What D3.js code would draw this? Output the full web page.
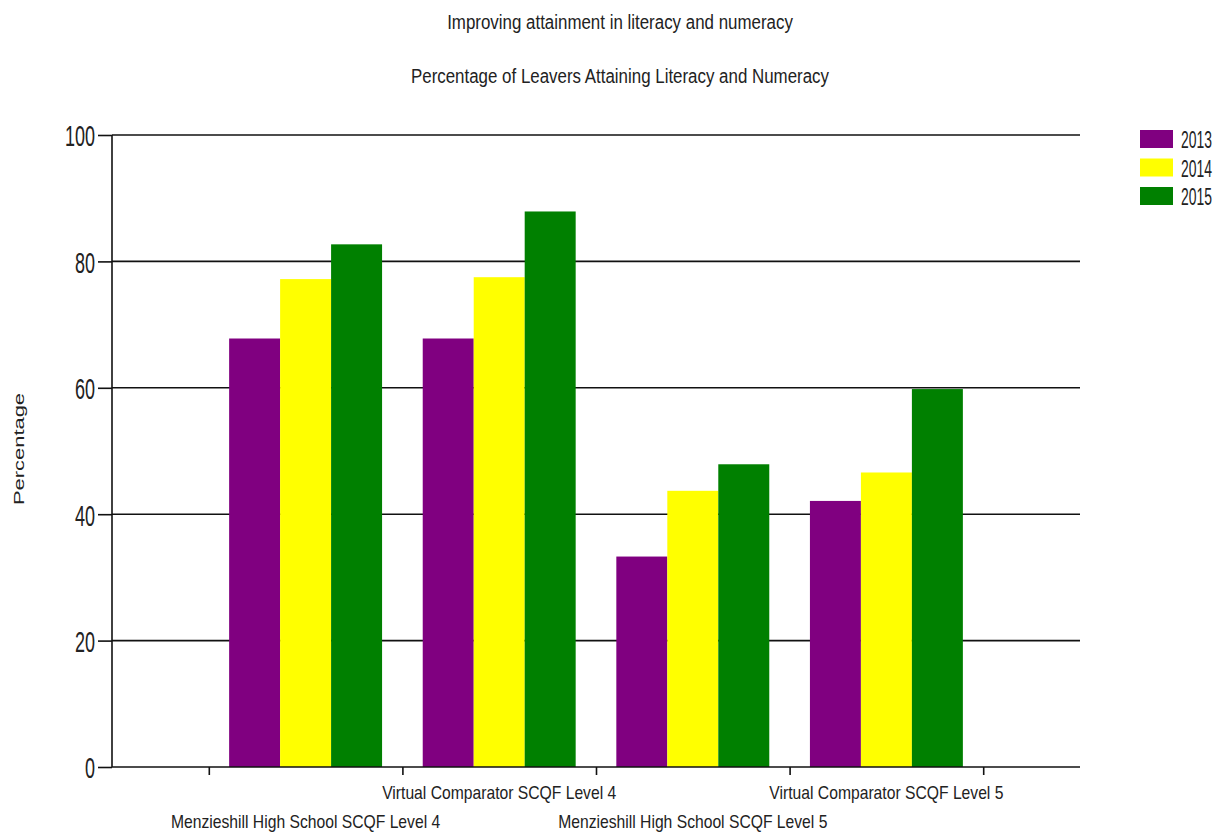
<!DOCTYPE html>
<html lang="en">
<head>
  <meta charset="UTF-8">
  <title>Improving attainment in literacy and numeracy</title>
  <script src="https://d3js.org/d3.v7.min.js"></script>
  <style>
    body { margin: 0; background: #fff; }
    text { font-family: "Liberation Sans", Arial, sans-serif; fill: #222; }
  </style>
</head>
<body>
  <svg id="chart"></svg>

  <script>
    const categories = [
      "Menzieshill High School SCQF Level 4",
      "Virtual Comparator SCQF Level 4",
      "Menzieshill High School SCQF Level 5",
      "Virtual Comparator SCQF Level 5"
    ];
    const years = ["2013", "2014", "2015"];
    const values2013 = [67.8, 67.8, 33.3, 42.1];
    const values2014 = [77.2, 77.5, 43.7, 46.6];
    const values2015 = [82.7, 87.9, 47.9, 59.8];
    const yTicks = [0, 20, 40, 60, 80, 100];
    const colors = ["#800080", "#ffff00", "#008000"];

    const width = 1220, height = 832;
    const margin = { top: 135, right: 140, bottom: 65, left: 112 };
    const innerW = width - margin.left - margin.right;
    const innerH = height - margin.top - margin.bottom;

    // the source image uses a tall, narrow font; squeeze text horizontally
    function squeeze(sel, k) {
      sel.each(function () {
        const w = this.getComputedTextLength();
        d3.select(this).attr("textLength", w * k).attr("lengthAdjust", "spacingAndGlyphs");
      });
    }

    const svg = d3.select("#chart").attr("width", width).attr("height", height);

    // titles
    svg.append("text")
      .attr("class", "title")
      .attr("x", 620).attr("y", 29)
      .attr("text-anchor", "middle")
      .style("font-size", "20px")
      .text("Improving attainment in literacy and numeracy");
    svg.append("text")
      .attr("class", "title")
      .attr("x", 620).attr("y", 83)
      .attr("text-anchor", "middle")
      .style("font-size", "20px")
      .text("Percentage of Leavers Attaining Literacy and Numeracy");
    squeeze(svg.selectAll(".title"), 0.845);

    const g = svg.append("g").attr("transform", `translate(${margin.left},${margin.top})`);

    // x is continuous: category i sits at i+1, axis spans 0..5
    const x = d3.scaleLinear().domain([0, categories.length + 1]).range([0, innerW]);
    const y = d3.scaleLinear().domain([0, 100]).range([innerH, 0]);
    const step = x(1) - x(0);
    const groupW = step * 0.79;
    const x1 = d3.scaleBand().domain(years).range([-groupW / 2, groupW / 2]);

    // gridlines
    g.selectAll(".grid")
      .data(yTicks.filter(d => d > 0))
      .enter().append("line")
      .attr("x1", 0).attr("x2", innerW)
      .attr("y1", d => y(d)).attr("y2", d => y(d))
      .attr("stroke", "#111").attr("stroke-width", 1.6);

    // bars
    const series = [values2013, values2014, values2015];
    const rows = [];
    categories.forEach((c, i) => {
      years.forEach((yr, j) => rows.push({ i, yr, j, v: series[j][i] }));
    });
    g.selectAll(".bar")
      .data(rows)
      .enter().append("rect")
      .attr("x", d => x(d.i + 1) + x1(d.yr))
      .attr("width", x1.bandwidth())
      .attr("y", d => y(d.v))
      .attr("height", d => innerH - y(d.v))
      .attr("fill", d => colors[d.j]);

    // y axis
    const yAxis = g.append("g")
      .call(d3.axisLeft(y).tickValues(yTicks).tickSize(14).tickPadding(3));
    yAxis.select(".domain").attr("stroke", "#111").attr("stroke-width", 1.6)
      .attr("d", `M0,0V${innerH}`);
    yAxis.selectAll(".tick line").attr("stroke", "#111").attr("stroke-width", 1.6);
    yAxis.selectAll("text").style("font-size", "30px")
      .style("font-family", "'Liberation Sans', Arial, sans-serif").attr("fill", "#222")
      .attr("dy", "0.36em");
    squeeze(yAxis.selectAll("text"), 0.6);

    // x axis: ticks between categories
    const xTicks = d3.range(categories.length + 1).map(k => k + 0.5);
    const xAxis = g.append("g")
      .attr("transform", `translate(0,${innerH})`)
      .call(d3.axisBottom(x).tickValues(xTicks).tickSize(8).tickFormat(""));
    xAxis.select(".domain").attr("stroke", "#111").attr("stroke-width", 1.6)
      .attr("d", `M0,0H${innerW}`);
    xAxis.selectAll(".tick line").attr("stroke", "#111").attr("stroke-width", 1.6);

    const xLabels = g.selectAll(".xlabel")
      .data(categories)
      .enter().append("text")
      .attr("class", "xlabel")
      .attr("x", (d, i) => x(i + 1))
      .attr("y", (d, i) => innerH + (i % 2 === 0 ? 61 : 32))
      .attr("text-anchor", "middle")
      .style("font-size", "19px")
      .text(d => d);
    squeeze(xLabels, 0.825);

    // y label
    const yLabel = svg.append("text")
      .attr("transform", "translate(24,449) rotate(-90)")
      .attr("text-anchor", "middle")
      .style("font-size", "14px")
      .text("Percentage");
    yLabel.attr("textLength", 112).attr("lengthAdjust", "spacingAndGlyphs");

    // legend
    const legend = svg.append("g").attr("transform", "translate(1140,130)");
    const items = legend.selectAll("g")
      .data(years)
      .enter().append("g")
      .attr("transform", (d, i) => `translate(0,${i * 28.5})`);
    items.append("rect")
      .attr("width", 33).attr("height", 18)
      .attr("fill", (d, i) => colors[i]);
    items.append("g")
      .attr("transform", "translate(41,18) scale(0.58,1)")
      .append("text")
      .style("font-size", "24px")
      .text(d => d);
  </script>
</body>
</html>
